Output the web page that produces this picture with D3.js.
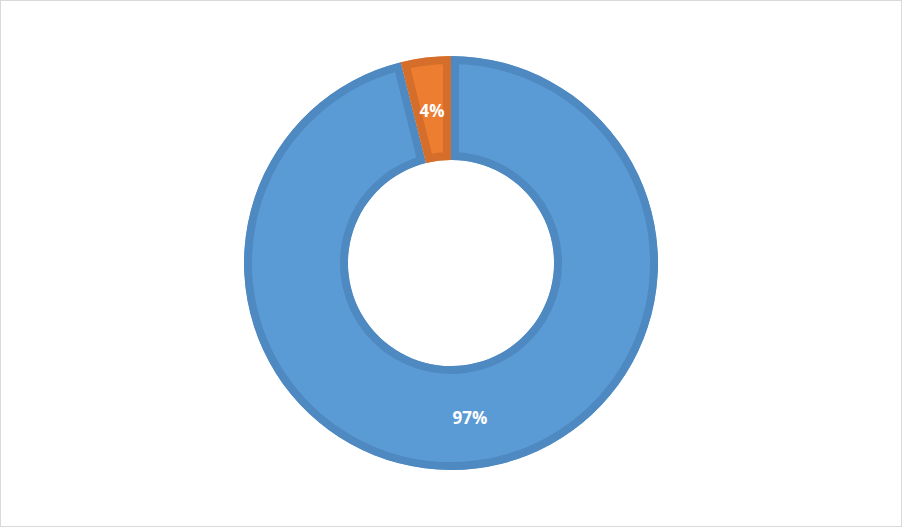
<!DOCTYPE html>
<html><head><meta charset="utf-8">
<script src="https://cdn.jsdelivr.net/npm/d3@7"></script>
<style>
html,body{margin:0;padding:0;background:#fff;}
svg{display:block;}
</style></head>
<body>
<svg id="chart" width="902" height="527"></svg>
<script>
const categories = ["A", "B"];
const values = [96.1, 3.9];
const labels = ["97%", "4%"];
const fills = ["#5b9bd5", "#ed7d31"];
const strokes = ["#4e89c1", "#d46e2a"];

const svg = d3.select("#chart");
svg.append("rect").attr("x",0.5).attr("y",0.5).attr("width",901).attr("height",526)
  .attr("fill","#fff").attr("stroke","#d9d9d9").attr("stroke-width",1);

const cx = 451, cy = 263, R = 207, r = 103;
const pie = d3.pie().sort(null).value(d => d.v);
const data = pie(categories.map((c,i)=>({c, v: values[i], i})));
const arc = d3.arc().innerRadius(r).outerRadius(R);
const labelArc = d3.arc().innerRadius((R+r)/2).outerRadius((R+r)/2);

const g = svg.append("g").attr("transform",`translate(${cx},${cy})`);
const defs = svg.append("defs");
data.forEach((d,i)=>{
  defs.append("clipPath").attr("id","clip"+i).append("path").attr("d", arc(d));
});
g.selectAll("path.slice").data(data).join("path")
  .attr("class","slice")
  .attr("d", d=>arc(d))
  .attr("fill", d=>fills[d.data.i])
  .attr("stroke", d=>strokes[d.data.i])
  .attr("stroke-width", 16)
  .attr("stroke-linejoin","miter")
  .attr("clip-path", d=>`url(#clip${d.data.i})`);

g.selectAll("text.lbl").data(data).join("text")
  .attr("class","lbl")
  .attr("x", d=>labelArc.centroid(d)[0])
  .attr("y", d=>labelArc.centroid(d)[1] + 1)
  .attr("text-anchor","middle")
  .attr("dominant-baseline","central")
  .attr("font-family","'Open Sans', sans-serif")
  .attr("font-weight","bold")
  .attr("font-size","17px")
  .attr("fill","#fff")
  .text(d=>labels[d.data.i]);
</script>
</body></html>
